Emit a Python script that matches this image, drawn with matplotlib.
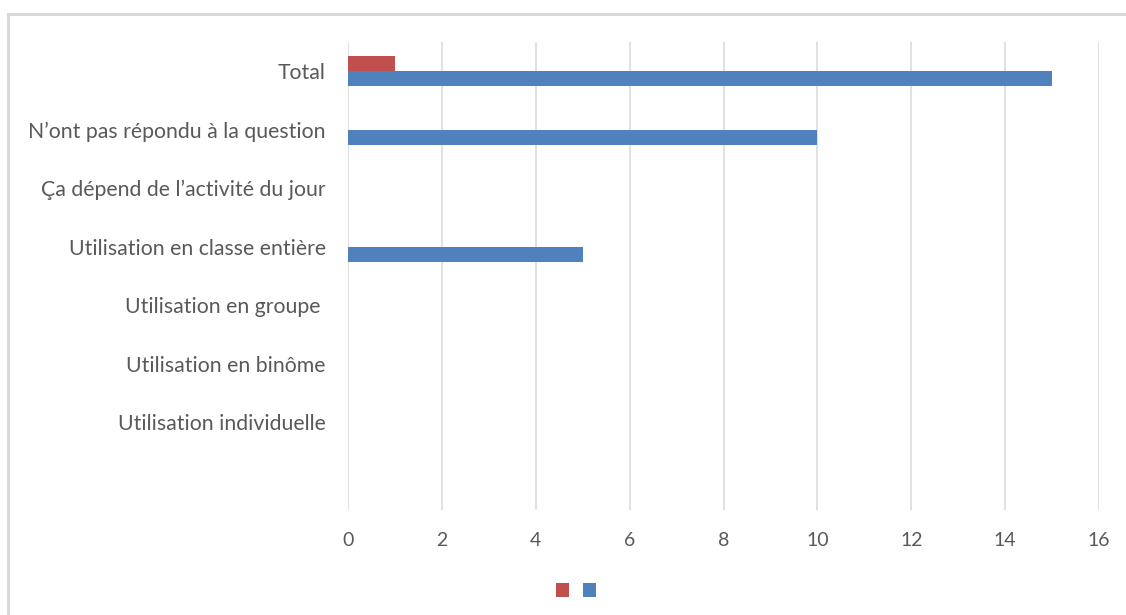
import matplotlib
matplotlib.use('Agg')
import matplotlib.pyplot as plt
from matplotlib.patches import Patch, Rectangle
import numpy as np

categories = ['', 'Utilisation individuelle', 'Utilisation en binôme',
              'Utilisation en groupe ', 'Utilisation en classe entière',
              'Ça dépend de l\u2019activité du jour',
              'N\u2019ont pas répondu à la question', 'Total']
blue_values = [0, 0, 0, 0, 5, 0, 10, 15]
red_values = [0, 0, 0, 0, 0, 0, 0, 1]
x_ticks = [0, 2, 4, 6, 8, 10, 12, 14, 16]

BLUE = '#4f81bd'
RED = '#c0504d'
TEXT = '#595959'

plt.rcParams['font.family'] = ['Lato', 'DejaVu Sans']

fig = plt.figure(figsize=(11.26, 6.15), dpi=100)
ax = fig.add_axes([348 / 1126, 1 - 510 / 615, (1099 - 348) / 1126, 468 / 615])

# outer chart frame
fig.patches.append(Rectangle((8 / 1126, -0.1), 1.2, 1 - 14 / 615 + 0.1,
                             transform=fig.transFigure, fill=False,
                             edgecolor='#d9d9d9', linewidth=2.2))

y = np.arange(len(categories))
h = 0.256
ax.barh(y - h / 2, blue_values, height=h, color=BLUE, linewidth=0)
ax.barh(y + h / 2, red_values, height=h, color=RED, linewidth=0)

ax.set_xlim(0, 16)
ax.set_ylim(-0.5, len(categories) - 0.5)
ax.set_xticks(x_ticks)
ax.set_xticklabels([str(t) for t in x_ticks], fontsize=14, color=TEXT)
ax.set_yticks(y)
ax.set_yticklabels(categories, fontsize=15.3, color=TEXT)
ax.tick_params(axis='x', length=0, pad=16)
ax.tick_params(axis='y', length=0, pad=16)
ax.grid(axis='x', color='#d9d9d9', linewidth=1.1)
ax.set_axisbelow(True)
for s in ax.spines.values():
    s.set_visible(False)

handles = [Patch(facecolor=RED, linewidth=0), Patch(facecolor=BLUE, linewidth=0)]
fig.legend(handles, ['', ''], ncol=2, loc='center', bbox_to_anchor=(576 / 1126, 1 - 591 / 615),
           frameon=False, handlelength=0.7, handleheight=0.7, handletextpad=0,
           columnspacing=0.7, fontsize=14)

fig.savefig('out.png', dpi=100)
